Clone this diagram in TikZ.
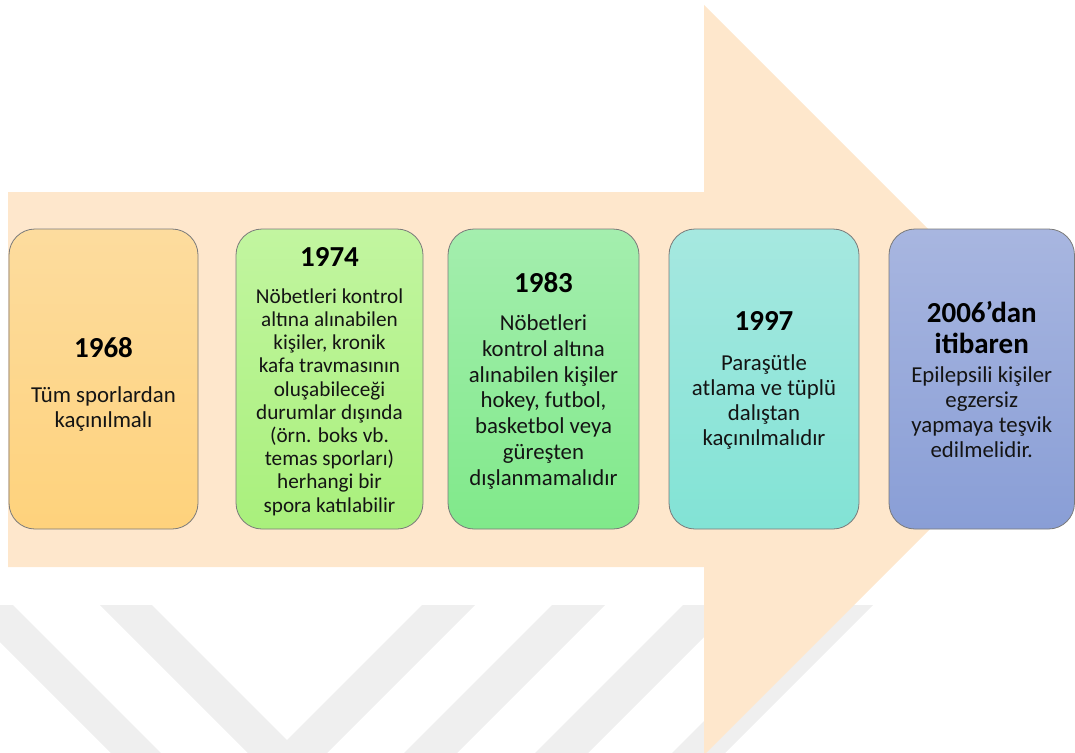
\documentclass[tikz,border=0pt]{standalone}
\usepackage{fontspec}
\setmainfont{Carlito}
\definecolor{arrowfill}{HTML}{FEE7CC}
\definecolor{wmgray}{HTML}{EFEFEF}
\definecolor{boxline}{HTML}{7A7A7A}
\definecolor{inktext}{HTML}{141414}
\definecolor{oA}{HTML}{FDDC9E}\definecolor{oB}{HTML}{FED27C}
\definecolor{gA}{HTML}{C2F5A0}\definecolor{gB}{HTML}{A9F07C}
\definecolor{mA}{HTML}{A4EEAE}\definecolor{mB}{HTML}{80E98A}
\definecolor{tA}{HTML}{A6E8E0}\definecolor{tB}{HTML}{82E3D5}
\definecolor{bA}{HTML}{A8B6E0}\definecolor{bB}{HTML}{899ED6}
\begin{document}
\begin{tikzpicture}[x=1pt,y=-1pt,
  wmark/.style={fill=wmgray},
  stage/.style n args={2}{draw=boxline, line width=0.8pt, rounded corners=26pt,
    top color=#1, bottom color=#2, minimum height=300pt, inner sep=0pt},
  year/.style={font=\fontsize{29}{31}\selectfont\bfseries, text=black,
    align=center, inner sep=0pt},
  body/.style={font=\fontsize{22.8}{24.8}\selectfont, text=inktext,
    align=center, inner sep=0pt},
  widebody/.style={body, font=\fontsize{22.8}{25.7}\selectfont},
  smallbody/.style={body, font=\fontsize{21.2}{23.2}\selectfont}]
\useasboundingbox (0,0) rectangle (1075,752);
\clip (0,0) rectangle (1075,752);

% faint watermark stripes
\fill[wmark] (-37,605) -- (13,605) -- (163,755) -- (113,755) -- cycle;
\fill[wmark] (100,605) -- (152,605) -- (287,740) -- (422,605) -- (475,605)
  -- (287.5,792.5) -- cycle;
\fill[wmark] (552,605) -- (605,605) -- (455,755) -- (402,755) -- cycle;
\fill[wmark] (683,605) -- (736,605) -- (586,755) -- (533,755) -- cycle;
\fill[wmark] (820,605) -- (873,605) -- (723,755) -- (670,755) -- cycle;

% the large timeline arrow
\fill[arrowfill] (8,192) -- (704,192) -- (704,5) -- (1079,380) -- (704,755)
  -- (704,567) -- (8,567) -- cycle;

% stage boxes
\node[stage={oA}{oB}, minimum width=189pt] (b1) at (103.5,379) {};
\node[stage={gA}{gB}, minimum width=187pt] (b2) at (329.5,379) {};
\node[stage={mA}{mB}, minimum width=191pt] (b3) at (543.5,379) {};
\node[stage={tA}{tB}, minimum width=190pt] (b4) at (764,379) {};
\node[stage={bA}{bB}, minimum width=185.5pt] (b5) at (981.75,379) {};

% texts (the base of a multi-line node is its last baseline)
\node[year, anchor=base] (y1) at (b1.center |- 0,357) {1968};
\node[body, anchor=base] (t1) at (b1.center |- 0,427)
  {Tüm sporlardan\\kaçınılmalı};

\node[year, anchor=base] (y2) at (b2.center |- 0,266) {1974};
\node[smallbody, anchor=base] (t2) at (b2.center |- 0,512)
  {Nöbetleri kontrol\\altına alınabilen\\kişiler, kronik\\kafa travmasının\\
   oluşabileceği\\durumlar dışında\\(örn. boks vb.\\temas sporları)\\
   herhangi bir\\spora katılabilir};

\node[year, anchor=base] (y3) at (b3.center |- 0,292) {1983};
\node[widebody, anchor=base] (t3) at (b3.center |- 0,485)
  {Nöbetleri\\kontrol altına\\alınabilen kişiler\\hokey, futbol,\\
   basketbol veya\\güreşten\\dışlanmamalıdır};

\node[year, anchor=base] (y4) at (b4.center |- 0,330) {1997};
\node[body, anchor=base] (t4) at (b4.center |- 0,445)
  {Paraşütle\\atlama ve tüplü\\dalıştan\\kaçınılmalıdır};

\node[year, anchor=base] (y5) at (b5.center |- 0,353) {2006’dan\\itibaren};
\node[body, anchor=base] (t5) at (b5.center |- 0,457)
  {Epilepsili kişiler\\egzersiz\\yapmaya teşvik\\edilmelidir.};
\end{tikzpicture}
\end{document}
